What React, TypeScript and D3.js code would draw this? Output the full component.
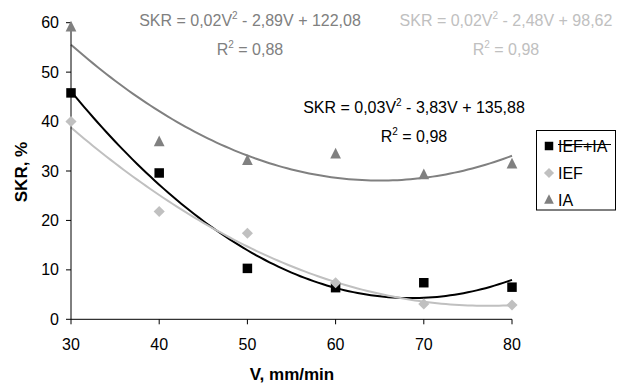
import React from "react";
import * as d3 from "d3";

const speeds = [30, 40, 50, 60, 70, 80];
const skrIefIa = [45.8, 29.6, 10.3, 6.4, 7.4, 6.5];
const skrIef = [40.0, 21.8, 17.4, 7.4, 3.1, 2.9];
const skrIa = [59.1, 35.9, 32.1, 33.4, 29.2, 31.4];
const xTicks = [30, 40, 50, 60, 70, 80];
const yTicks = [0, 10, 20, 30, 40, 50, 60];
const seriesNames = ["IEF+IA", "IEF", "IA"];

const W = 633;
const H = 387;
const FONT = "'Liberation Sans', Arial, sans-serif";

// least-squares quadratic fit (Excel polynomial trendline, order 2)
function quadFit(xs: number[], ys: number[]) {
  const n = xs.length;
  let s0 = n, s1 = 0, s2 = 0, s3 = 0, s4 = 0, t0 = 0, t1 = 0, t2 = 0;
  for (let i = 0; i < n; i++) {
    const x = xs[i], y = ys[i];
    s1 += x; s2 += x * x; s3 += x * x * x; s4 += x * x * x * x;
    t0 += y; t1 += x * y; t2 += x * x * y;
  }
  const M = [
    [s4, s3, s2, t2],
    [s3, s2, s1, t1],
    [s2, s1, s0, t0],
  ];
  for (let c = 0; c < 3; c++) {
    for (let r = c + 1; r < 3; r++) {
      const f = M[r][c] / M[c][c];
      for (let k = c; k < 4; k++) M[r][k] -= f * M[c][k];
    }
  }
  const sol = [0, 0, 0];
  for (let r = 2; r >= 0; r--) {
    let s = M[r][3];
    for (let k = r + 1; k < 3; k++) s -= M[r][k] * sol[k];
    sol[r] = s / M[r][r];
  }
  return (x: number) => sol[0] * x * x + sol[1] * x + sol[2];
}

export default function App() {
  const x = d3.scaleLinear().domain([30, 80]).range([71, 512]);
  const y = d3.scaleLinear().domain([0, 60]).range([319.3, 22.7]);

  const series = [
    { name: seriesNames[0], data: skrIefIa, color: "#000000", marker: "square" },
    { name: seriesNames[1], data: skrIef, color: "#c0c0c0", marker: "diamond" },
    { name: seriesNames[2], data: skrIa, color: "#808080", marker: "triangle" },
  ];

  const sample = d3.range(0, 101).map((i) => 30 + (50 * i) / 100);
  const line = d3
    .line<[number, number]>()
    .x((d) => x(d[0]))
    .y((d) => y(d[1]));

  const markerPath = (kind: string, size: number) => {
    if (kind === "square") {
      const h = size / 2;
      return `M${-h},${-h}H${h}V${h}H${-h}Z`;
    }
    if (kind === "diamond") {
      const h = size / 2 + 0.8;
      return `M0,${-h}L${h},0L0,${h}L${-h},0Z`;
    }
    const h = size / 2 + 0.6;
    return `M0,${-h - 1}L${h},${h - 1}L${-h},${h - 1}Z`;
  };

  const sup = (txt: string) => (
    <tspan dy={-7} fontSize={10}>
      {txt}
    </tspan>
  );

  const eqs = [
    { cx: 250, cy: 26, color: "#808080", a: "SKR = 0,02V", b: " - 2,89V + 122,08", r: " = 0,88" },
    { cx: 506, cy: 26, color: "#c0c0c0", a: "SKR = 0,02V", b: " - 2,48V + 98,62", r: " = 0,98" },
    { cx: 414, cy: 113, color: "#000000", a: "SKR = 0,03V", b: " - 3,83V + 135,88", r: " = 0,98" },
  ];

  const legendY = [146, 173, 200];

  return (
    <svg width={W} height={H} style={{ display: "block", position: "absolute", left: 0, top: 0, background: "#fff" }} fontFamily={FONT}>
      <rect width={W} height={H} fill="#fff" />
      {/* trendlines */}
      {series.map((s) => {
        const f = quadFit(speeds, s.data);
        const pts = sample.map((v) => [v, f(v)] as [number, number]);
        return <path key={s.name + "t"} d={line(pts) || ""} fill="none" stroke={s.color} strokeWidth={2} />;
      })}
      {/* axes */}
      <line x1={x(30)} x2={x(30)} y1={y(0)} y2={y(60)} stroke="#000" strokeWidth={1} />
      <line x1={x(30)} x2={x(80)} y1={y(0)} y2={y(0)} stroke="#000" strokeWidth={1} />
      {yTicks.map((t) => (
        <g key={"y" + t}>
          <line x1={x(30) - 5} x2={x(30)} y1={y(t)} y2={y(t)} stroke="#000" />
          <text x={59} y={y(t)} dy="0.35em" textAnchor="end" fontSize={16} fill="#000">
            {t}
          </text>
        </g>
      ))}
      {xTicks.map((t) => (
        <g key={"x" + t}>
          <line x1={x(t)} x2={x(t)} y1={y(0)} y2={y(0) + 5} stroke="#000" />
          <text x={x(t)} y={344} dy="0.35em" textAnchor="middle" fontSize={16} fill="#000">
            {t}
          </text>
        </g>
      ))}
      {/* markers */}
      {series.map((s) =>
        s.data.map((v, i) => (
          <path
            key={s.name + i}
            d={markerPath(s.marker, 9.5)}
            transform={`translate(${x(speeds[i])},${y(v)})`}
            fill={s.color}
          />
        ))
      )}
      {/* axis titles */}
      <text x={292} y={374} dy="0.35em" textAnchor="middle" fontSize={17} fontWeight="bold">
        V, mm/min
      </text>
      <text transform="translate(21,172) rotate(-90)" dy="0.35em" textAnchor="middle" fontSize={17} fontWeight="bold">
        SKR, %
      </text>
      {/* equations */}
      {eqs.map((e, i) => (
        <g key={"eq" + i} fill={e.color} fontSize={16}>
          <text x={e.cx} y={e.cy} textAnchor="middle">
            {e.a}
            {sup("2")}
            <tspan dy={7}>{e.b}</tspan>
          </text>
          <text x={e.cx} y={e.cy + 29} textAnchor="middle">
            R{sup("2")}
            <tspan dy={7}>{e.r}</tspan>
          </text>
        </g>
      ))}
      {/* legend */}
      <rect x={536.5} y={130.5} width={79} height={79.5} fill="#fff" stroke="#000" strokeWidth={1} />
      {series.map((s, i) => (
        <g key={"lg" + i}>
          <path d={markerPath(s.marker, 8.5)} transform={`translate(549,${legendY[i]})`} fill={s.color} />
          <text x={558} y={legendY[i]} dy="0.35em" fontSize={16} fill="#000">
            {s.name}
          </text>
        </g>
      ))}
      <line x1={558} x2={611} y1={144.5} y2={144.5} stroke="#000" strokeWidth={1} />
    </svg>
  );
}
